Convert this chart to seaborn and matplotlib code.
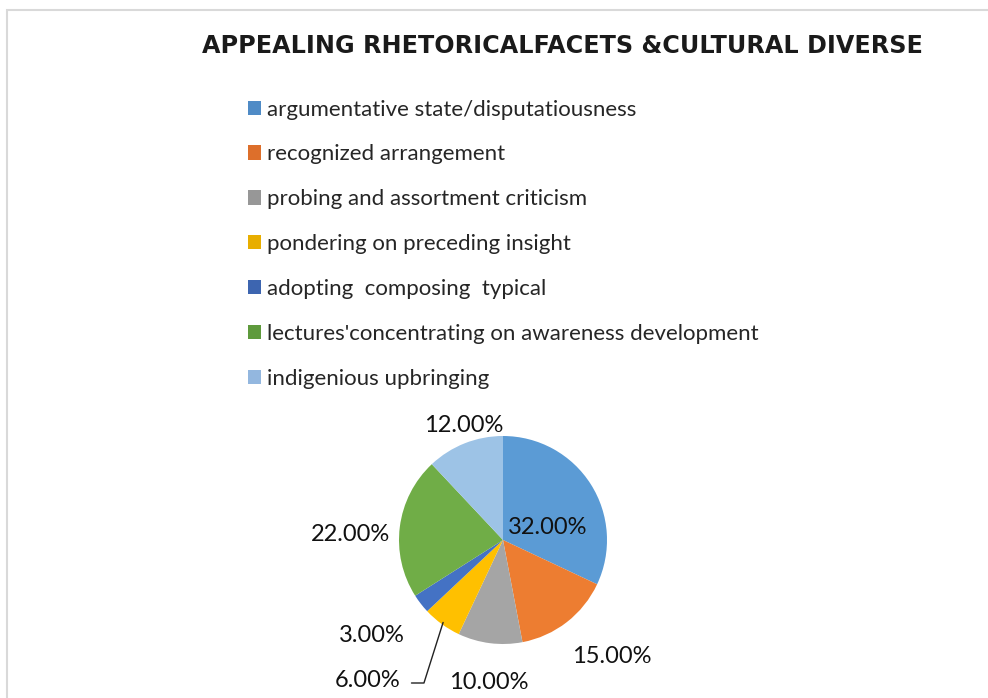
import numpy as np
import matplotlib
matplotlib.use("Agg")
import matplotlib.pyplot as plt
from matplotlib.patches import Rectangle, Patch
import seaborn as sns

sns.set_theme(style="white")
plt.rcParams['font.family'] = ['Lato', 'DejaVu Sans']

title = "APPEALING RHETORICALFACETS &CULTURAL DIVERSE"
categories = [
    "argumentative state/disputatiousness",
    "recognized arrangement",
    "probing and assortment criticism",
    "pondering on preceding insight",
    "adopting  composing  typical",
    "lectures'concentrating on awareness development",
    "indigenious upbringing",
]
shares = [32.0, 15.0, 10.0, 6.0, 3.0, 22.0, 12.0]
colors = ["#5B9BD5", "#ED7D31", "#A5A5A5", "#FFC000", "#4472C4", "#70AD47", "#9DC3E6"]
legend_colors = ["#4F8BC6", "#DD6F2B", "#979797", "#E8AE00", "#3D65B0", "#5E9A3C", "#93B7DF"]

W, H = 988, 698
fig = plt.figure(figsize=(W / 100, H / 100), dpi=100)
fig.patch.set_facecolor("white")

# chart frame
fig.patches.append(Rectangle((7 / W, -0.1), 1.2, (H - 10) / H + 0.1,
                             transform=fig.transFigure, fill=False,
                             edgecolor="#D9D9D9", linewidth=1.5))

fig.text(562 / W, 1 - 46 / H, title, ha="center", va="center",
         fontsize=17.2, fontweight="bold", color="#1a1a1a",
         family=["DejaVu Sans"])

# pie axes
cx, cy, r = 503, 540, 104
ax = fig.add_axes([(cx - r) / W, (H - cy - r) / H, 2 * r / W, 2 * r / H])
wedges, _ = ax.pie(shares, colors=colors, startangle=90, counterclock=False,
                   radius=1.0, wedgeprops=dict(linewidth=0))
ax.set_xlim(-1, 1)
ax.set_ylim(-1, 1)
ax.set_aspect("equal")
ax.axis("off")

# label placement (in pie units)
label_xy = [(0.43, 0.12), (1.05, -1.12), (-0.14, -1.37), (-1.30, -1.35),
            (-1.26, -0.92), (-1.47, 0.05), (-0.38, 1.10)]
for w, v, (lx, ly) in zip(wedges, shares, label_xy):
    ax.text(lx, ly, f"{v:.2f}%", ha="center", va="center", fontsize=17,
            color="#111111", clip_on=False)

# leader line for the small yellow slice
yw = wedges[3]
mid = np.deg2rad((yw.theta1 + yw.theta2) / 2)
ax.plot([-0.88, -0.76, np.cos(mid) * 0.98], [-1.375, -1.375, np.sin(mid) * 0.98],
        color="#222222", linewidth=1.0, clip_on=False)

handles = [Patch(facecolor=c, edgecolor="none") for c in legend_colors]
fig.legend(handles, categories, loc="upper left",
           bbox_to_anchor=(248 / W, 1 - 99.5 / H), frameon=False,
           fontsize=16, handlelength=0.6, handleheight=0.6,
           handletextpad=0.25, labelspacing=1.12, borderaxespad=0,
           borderpad=0)

fig.savefig("out.png", dpi=100)
